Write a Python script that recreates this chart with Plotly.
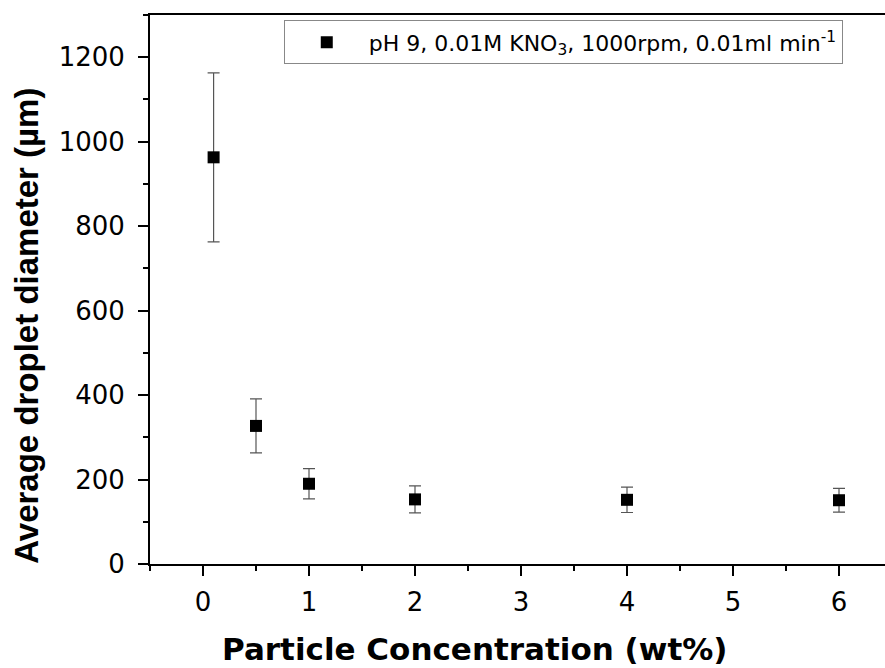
import plotly.graph_objects as go

# Particle concentration (wt%) and average droplet diameter (µm) with spread
concentration = [0.1, 0.5, 1, 2, 4, 6]
diameter = [963, 327, 190, 153, 152, 151]
diameter_err = [200, 64, 36, 32, 30, 28]

x_ticks = [0, 1, 2, 3, 4, 5, 6]
y_ticks = [0, 200, 400, 600, 800, 1000, 1200]

series_name = "pH 9, 0.01M KNO<sub>3</sub>, 1000rpm, 0.01ml min<sup>-1</sup>"
x_title = "<b>Particle Concentration (wt%)</b>"
y_title = "<b>Average droplet diameter (µm)</b>"

wide_font = "DejaVu Sans, Liberation Sans, sans-serif"
narrow_font = "Liberation Sans, Arial, sans-serif"

fig = go.Figure()
fig.add_trace(go.Scatter(
    x=concentration,
    y=diameter,
    mode="markers",
    name=series_name,
    marker=dict(symbol="square", size=12, color="black"),
    error_y=dict(type="data", array=diameter_err, visible=True,
                 color="#555555", thickness=1.2, width=6),
    showlegend=True,
))

axis_common = dict(
    showline=True, linecolor="black", linewidth=2,
    ticks="outside", ticklen=10, tickwidth=2, tickcolor="black",
    showgrid=False, zeroline=False,
    tickfont=dict(family=wide_font, size=26, color="black"),
)

fig.update_xaxes(
    range=[-0.5, 6.434],
    tickvals=x_ticks,
    ticktext=[str(v) for v in x_ticks],
    mirror=True,
    ticklabelstandoff=4,
    minor=dict(ticks="outside", ticklen=5, tickwidth=2, tickcolor="black",
               dtick=0.5, tick0=0),
    **axis_common,
)
fig.update_yaxes(
    range=[0, 1300],
    tickvals=y_ticks,
    ticktext=[str(v) for v in y_ticks],
    ticklabelstandoff=8,
    minor=dict(ticks="outside", ticklen=5, tickwidth=2, tickcolor="black",
               dtick=100, tick0=0),
    **axis_common,
)

# Axis titles placed as paper-anchored annotations
fig.add_annotation(
    text=x_title, xref="paper", yref="paper",
    x=0.441, y=-0.154, xanchor="center", yanchor="middle",
    showarrow=False,
    font=dict(family=wide_font, size=31, color="black"),
)
fig.add_annotation(
    text=y_title, xref="paper", yref="paper",
    x=-0.168, y=0.433, xanchor="center", yanchor="middle",
    textangle=-90, showarrow=False,
    font=dict(family=narrow_font, size=33, color="black"),
)

fig.update_layout(
    width=885, height=668,
    margin=dict(l=150, r=0, t=15, b=104),
    paper_bgcolor="white", plot_bgcolor="white",
    legend=dict(
        x=0.182, y=0.99, xanchor="left", yanchor="top",
        bgcolor="white", bordercolor="#888888", borderwidth=1,
        font=dict(family=wide_font, size=22, color="black"),
        itemsizing="constant", itemwidth=74,
    ),
    font=dict(family=wide_font, color="black"),
)

fig.write_html("out.html")
